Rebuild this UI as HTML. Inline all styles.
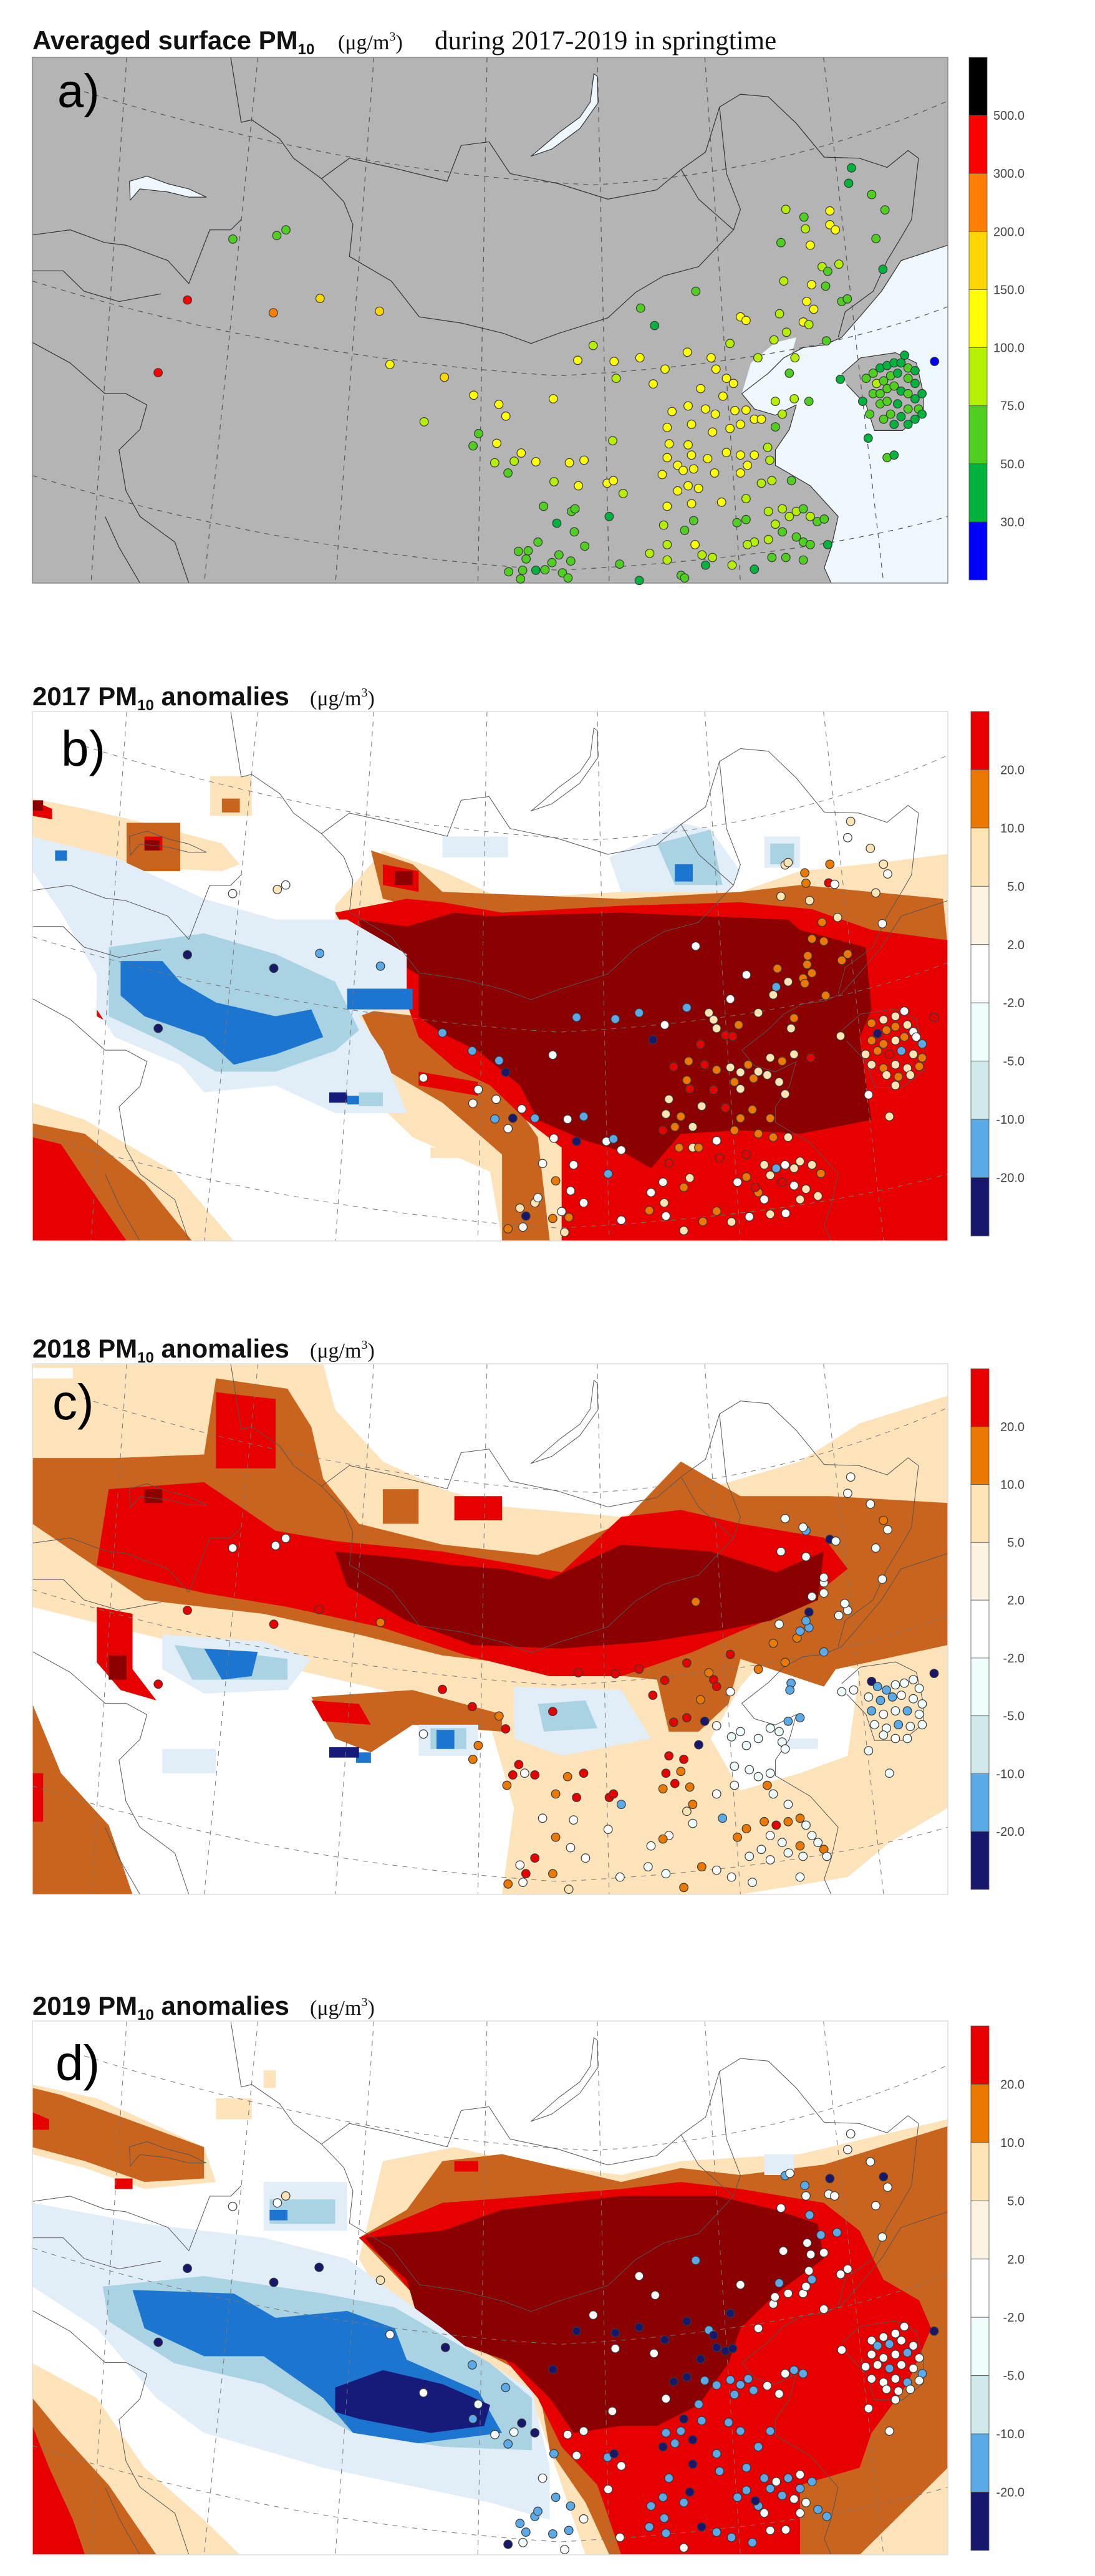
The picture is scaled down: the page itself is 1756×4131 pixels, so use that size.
<!DOCTYPE html>
<html><head><meta charset="utf-8">
<style>
html,body{margin:0;padding:0;background:#fff;}
svg{display:block;}
.bt{font-family:"Liberation Sans",sans-serif;font-weight:bold;fill:#111;}
.st{font-family:"Liberation Serif",serif;fill:#111;}
.pl{font-family:"Liberation Sans",sans-serif;fill:#000;}
.cb{font-family:"Liberation Sans",sans-serif;font-size:20px;fill:#444;}
</style></head>
<body>
<svg id="root" width="1756" height="4131" viewBox="0 0 1756 4131" xmlns="http://www.w3.org/2000/svg">
<defs>
<g id="baselines" fill="none" stroke-linejoin="round">
  <path vector-effect="non-scaling-stroke" d="M330,103 L345,230 L360,225 L400,262 L420,300 L460,340 L500,300 L560,318 L640,345 L660,275 L700,268 L730,330 L800,350 L870,380 L940,362 L975,322 L1010,288 L1030,200 L1060,175 L1100,180 L1140,232 L1180,298 L1230,300 L1270,318 L1300,285 L1315,300 L1305,420 L1290,455"/>
  <path vector-effect="non-scaling-stroke" d="M460,340 L492,385 L505,430 L500,492 L560,540 L600,610 L660,622 L720,642 L760,662 L800,642 L870,612 L910,562 L950,530 L1000,512 L1050,440 L1000,380 L975,322"/>
  <path vector-effect="non-scaling-stroke" d="M1050,440 L1060,400 L1040,330 L1030,200 M1290,455 L1270,500 L1250,560 L1210,600 L1200,650"/>
  <path vector-effect="non-scaling-stroke" d="M46,450 L100,440 L150,465 L180,470 L240,500 L270,545 L300,440 L330,440 L345,420 M46,660 L100,700 L150,760 L180,760 L210,782 L200,830 L170,870 L180,950 L200,1000 L250,1050 L270,1130 M46,520 L90,520 L120,560 L170,580 L230,565 M150,1000 L170,1060 L200,1130"/>
  <path vector-effect="non-scaling-stroke" d="M1357,470 L1290,500 L1262,560 L1232,608 L1205,650 L1180,665 L1150,670 L1122,690 L1100,720 L1062,760 L1080,790 L1110,802 L1140,782 L1130,830 L1110,870 L1110,900 L1160,940 L1200,1000 L1190,1060 L1180,1100 L1190,1130 M1205,722 L1232,690 L1282,680 L1312,700 L1322,760 L1322,800 L1292,832 L1252,832 L1240,782 L1212,742"/>
  <path vector-effect="non-scaling-stroke" d="M850,135 L845,190 L830,220 L800,250 L770,285 L760,296 L790,282 L830,242 L856,192 L855,140 Z"/>
  <path vector-effect="non-scaling-stroke" d="M185,345 L210,335 L240,350 L270,360 L295,376 L270,376 L240,366 L200,360 L186,382 Z"/>
</g>
<g id="graticule" fill="none" stroke-dasharray="8 8">
  <path vector-effect="non-scaling-stroke" d="M120,170 Q500,330 850,352 Q1120,330 1357,188"/>
  <path vector-effect="non-scaling-stroke" d="M46,540 Q400,690 800,725 Q1150,700 1357,590"/>
  <path vector-effect="non-scaling-stroke" d="M46,920 Q400,1070 800,1105 Q1150,1080 1357,1000"/>
  <path vector-effect="non-scaling-stroke" d="M181,103 L130,1130 M369,103 L292,1130 M535,103 L480,1130 M697,103 L684,1130 M855,103 L872,1130 M1009,103 L1060,1130 M1179,103 L1265,1130"/>
</g>
</defs>

<!-- titles -->
<text class="bt" x="52" y="79" font-size="42">Averaged surface PM<tspan font-size="24" dy="8">10</tspan></text>
<text class="st" x="542" y="79" font-size="34">(μg/m<tspan font-size="20" dy="-14">3</tspan><tspan dy="14">)</tspan></text>
<text class="st" x="697" y="79" font-size="43">during 2017-2019 in springtime</text>

<text class="bt" x="52" y="1131" font-size="42">2017 PM<tspan font-size="24" dy="8">10</tspan><tspan dy="-8"> anomalies</tspan></text>
<text class="st" x="497" y="1131" font-size="34">(μg/m<tspan font-size="20" dy="-14">3</tspan><tspan dy="14">)</tspan></text>

<text class="bt" x="52" y="2177" font-size="42">2018 PM<tspan font-size="24" dy="8">10</tspan><tspan dy="-8"> anomalies</tspan></text>
<text class="st" x="497" y="2177" font-size="34">(μg/m<tspan font-size="20" dy="-14">3</tspan><tspan dy="14">)</tspan></text>

<text class="bt" x="52" y="3231" font-size="42">2019 PM<tspan font-size="24" dy="8">10</tspan><tspan dy="-8"> anomalies</tspan></text>
<text class="st" x="497" y="3231" font-size="34">(μg/m<tspan font-size="20" dy="-14">3</tspan><tspan dy="14">)</tspan></text>

<!-- Panel a map -->
<svg x="52" y="92" width="1468" height="843" viewBox="46 103 1311 1027" preserveAspectRatio="none">
  <rect x="46" y="103" width="1311" height="1027" fill="#b4b4b4"/>
  <path fill="#eef6fe" d="M1357,470 L1290,500 L1262,560 L1232,608 L1205,650 L1180,665 L1150,670 L1122,690 L1100,720 L1062,760 L1080,790 L1110,802 L1140,782 L1130,830 L1110,870 L1110,900 L1160,940 L1200,1000 L1190,1060 L1180,1100 L1190,1130 L1357,1130 Z"/>
  <path fill="#eef6fe" d="M1062,760 L1075,700 L1110,660 L1140,650 L1130,700 L1110,730 Z"/>
  <path fill="#b4b4b4" d="M1205,722 L1232,690 L1282,680 L1312,700 L1322,760 L1322,800 L1292,832 L1252,832 L1240,782 L1212,742 Z"/>
  <path fill="#eef6fe" d="M850,135 L845,190 L830,220 L800,250 L770,285 L760,296 L790,282 L830,242 L856,192 L855,140 Z M185,345 L210,335 L240,350 L270,360 L295,376 L270,376 L240,366 L200,360 L186,382 Z"/>
  <use href="#graticule" stroke="#555" stroke-width="1.2"/>
  <use href="#baselines" stroke="#333" stroke-width="1.2"/>
</svg>
<rect x="52" y="92" width="1468" height="843" fill="none" stroke="#888" stroke-width="1.5"/>

<!-- Panels b-d map fields -->
<svg x="52" y="1141" width="1468" height="849" viewBox="12 18 1536 1532" preserveAspectRatio="none">
  <rect x="12" y="18" width="1536" height="1532" fill="#fff"/>
  <g>
  <path fill="#fde3ba" d="M12,270 L100,300 L200,340 L330,400 L360,460 L330,480 L200,470 L100,420 L12,400 Z M310,205 L380,205 L380,320 L310,320 Z M520,580 L600,420 L700,480 L800,560 L1000,540 L1200,540 L1300,480 L1460,450 L1548,430 L1548,1550 L800,1550 L780,1350 L650,1250 L560,1100 L520,900 L550,800 L600,760 L520,640 Z M12,1150 L100,1200 L250,1350 L350,1550 L12,1550 Z M680,1280 L740,1280 L740,1310 L680,1310 Z"/>
  <path fill="#c8641e" d="M12,1210 L100,1240 L200,1380 L280,1550 L12,1550 Z M560,880 L660,900 L720,1000 L800,1100 L860,1250 L880,1550 L800,1550 L800,1300 L700,1150 L600,1050 L580,950 Z M580,420 L650,460 L700,540 L1000,560 L1200,540 L1300,520 L1540,560 L1548,700 L1440,780 L1380,680 L1300,600 L700,600 L600,560 Z M170,340 L260,340 L260,480 L170,480 Z M330,270 L360,270 L360,310 L330,310 Z"/>
  <path fill="#e60000" d="M520,600 L640,560 L700,570 L800,600 L1000,580 L1200,570 L1320,590 L1420,650 L1548,680 L1548,1550 L900,1550 L900,1280 L840,1200 L780,1100 L720,1050 L660,960 L640,860 L600,720 L540,660 Z M12,1250 L60,1270 L110,1400 L170,1550 L12,1550 Z M660,1060 L760,1090 L760,1130 L660,1100 Z M600,460 L660,480 L660,540 L600,520 Z M120,850 L220,940 L220,990 L120,900 Z M12,275 L45,300 L45,330 L12,320 Z M200,380 L230,380 L230,420 L200,420 Z"/>
  <path fill="#8b0000" d="M560,620 L640,640 L720,600 L780,610 L1000,600 L1280,620 L1300,650 L1410,700 L1420,880 L1400,960 L1420,1200 L1300,1240 L1200,1230 L1100,1240 L1050,1340 L1000,1290 L940,1260 L860,1200 L830,1100 L760,1000 L700,950 L660,900 L660,780 L620,740 L570,680 Z M620,480 L650,480 L650,520 L620,520 Z M140,880 L170,880 L170,920 L140,920 Z M12,275 L30,275 L30,305 L12,305 Z M200,390 L225,390 L225,420 L200,420 Z"/>
  <path fill="#e1edf7" d="M12,380 L150,440 L300,560 L420,620 L540,620 L640,720 L640,850 L560,900 L600,1000 L640,1180 L520,1180 L420,1100 L300,1120 L260,1040 L150,960 L120,880 L120,780 L60,600 L12,480 Z M980,440 L1100,340 L1150,360 L1200,480 L1180,540 L1000,540 Z M1240,380 L1300,380 L1300,470 L1240,470 Z M700,380 L810,380 L810,440 L700,440 Z"/>
  <path fill="#a9d2e3" d="M140,700 L300,660 L420,720 L520,800 L560,940 L520,1000 L420,1060 L320,1060 L240,980 L140,900 Z M1060,400 L1150,360 L1170,520 L1090,520 Z M1250,400 L1290,400 L1290,460 L1250,460 Z M560,1120 L600,1120 L600,1160 L560,1160 Z"/>
  <path fill="#1c76cf" d="M160,740 L230,740 L260,800 L320,860 L420,900 L480,880 L500,960 L420,1010 L350,1040 L300,960 L200,900 L160,840 Z M540,820 L650,820 L650,880 L540,880 Z M1090,460 L1120,460 L1120,510 L1090,510 Z M50,420 L70,420 L70,450 L50,450 Z M540,1130 L560,1130 L560,1155 L540,1155 Z"/>
  <path fill="#161a78" d="M510,1120 L540,1120 L540,1150 L510,1150 Z"/>
  </g>
  <g transform="matrix(1.1716,0,0,1.4917,-41.9,-135.6)">
    <use href="#graticule" stroke="#777" stroke-width="1"/>
    <use href="#baselines" stroke="#555" stroke-width="1"/>
  </g>
</svg>
<rect x="52" y="1141" width="1468" height="849" fill="none" stroke="#ddd" stroke-width="1.5"/>

<svg x="52" y="2187" width="1468" height="851" viewBox="12 18 1536 1532" preserveAspectRatio="none">
  <rect x="12" y="18" width="1536" height="1532" fill="#fff"/>
  <g>
  <path fill="#fde3ba" d="M12,20 L1548,20 L1548,1300 L1450,1400 L1380,1500 L1200,1550 L12,1550 Z"/>
  <path fill="#ffffff" d="M500,20 L1548,20 L1548,110 L1400,190 L1300,300 L1100,400 L1000,460 L800,430 L700,380 L600,300 L520,150 Z M12,720 L200,800 L400,880 L600,960 L780,1060 L820,1300 L800,1550 L170,1550 L100,1400 L12,1300 Z M1250,850 L1400,900 L1380,1150 L1300,1200 L1200,1250 L1150,1100 L1200,950 Z M12,30 L80,30 L80,60 L12,60 Z"/>
  <path fill="#c8641e" d="M12,290 L150,290 L300,280 L320,60 L440,90 L480,200 L500,350 L560,480 L700,540 L860,570 L1000,480 L1100,300 L1200,400 L1350,400 L1548,420 L1548,830 L1360,900 L1340,950 L1200,870 L1180,1000 L1130,1080 L1080,1080 L1060,930 L900,900 L700,860 L560,800 L400,740 L200,700 L12,480 Z M480,980 L650,960 L800,1030 L800,1080 L650,1060 L580,1140 L520,1100 Z M12,1000 L60,1200 L140,1350 L180,1550 L12,1550 Z M600,380 L660,380 L660,480 L600,480 Z"/>
  <path fill="#e60000" d="M140,380 L300,360 L420,500 L520,530 L700,560 L900,620 L1000,460 L1100,440 L1200,480 L1340,520 L1380,610 L1300,720 L1200,790 L1120,850 L1000,920 L880,920 L740,860 L600,780 L440,720 L300,680 L200,640 L120,600 Z M320,100 L420,120 L420,320 L320,320 Z M120,720 L180,740 L180,900 L220,990 L160,960 L120,880 Z M480,990 L560,1000 L580,1060 L500,1050 Z M720,400 L800,400 L800,470 L720,470 Z M12,1200 L30,1200 L30,1340 L12,1340 Z"/>
  <path fill="#8b0000" d="M520,560 L640,580 L720,600 L800,610 L880,640 L1000,540 L1150,560 L1260,620 L1340,560 L1330,700 L1250,760 L1160,790 L1050,820 L900,840 L750,830 L640,760 L540,660 Z M140,860 L170,860 L170,930 L140,930 Z M200,380 L230,380 L230,420 L200,420 Z"/>
  <path fill="#e1edf7" d="M230,800 L400,820 L480,870 L440,960 L300,970 L230,900 Z M820,950 L1000,960 L1050,1100 L900,1150 L820,1100 Z M660,1060 L760,1060 L760,1150 L660,1150 Z M230,1130 L320,1130 L320,1200 L230,1200 Z M1280,1100 L1330,1100 L1330,1130 L1280,1130 Z"/>
  <path fill="#a9d2e3" d="M250,830 L440,870 L440,930 L280,930 Z M860,1000 L940,990 L960,1070 L870,1080 Z M680,1070 L740,1070 L740,1130 L680,1130 Z"/>
  <path fill="#1c76cf" d="M300,840 L390,850 L380,920 L330,930 Z M690,1075 L720,1075 L720,1130 L690,1130 Z M555,1140 L580,1140 L580,1170 L555,1170 Z"/>
  <path fill="#161a78" d="M510,1125 L560,1125 L560,1155 L510,1155 Z"/>
  </g>
  <g transform="matrix(1.1716,0,0,1.4917,-41.9,-135.6)">
    <use href="#graticule" stroke="#777" stroke-width="1"/>
    <use href="#baselines" stroke="#555" stroke-width="1"/>
  </g>
</svg>
<rect x="52" y="2187" width="1468" height="851" fill="none" stroke="#ddd" stroke-width="1.5"/>

<svg x="52" y="3241" width="1468" height="856" viewBox="12 18 1536 1532" preserveAspectRatio="none">
  <rect x="12" y="18" width="1536" height="1532" fill="#fff"/>
  <g>
  <path fill="#fde3ba" d="M12,200 L120,240 L300,380 L320,480 L200,500 L100,440 L12,400 Z M600,420 L720,380 L820,420 L1000,460 L1100,420 L1300,400 L1548,300 L1548,1550 L940,1550 L880,1250 L860,1150 L700,1000 L600,820 L560,700 Z M12,1000 L120,1100 L200,1300 L300,1450 L360,1550 L12,1550 Z M400,160 L420,160 L420,210 L400,210 Z M320,240 L380,240 L380,300 L320,300 Z"/>
  <path fill="#c8641e" d="M12,210 L60,230 L300,380 L300,470 L200,480 L100,420 L12,380 Z M560,640 L640,560 L700,420 L800,400 L1000,480 L1100,440 L1200,460 L1340,430 L1548,320 L1548,1300 L1400,1550 L980,1550 L940,1400 L880,1250 L860,1050 L760,960 L650,800 Z M12,1100 L60,1200 L140,1350 L220,1550 L12,1550 Z M130,840 L170,840 L170,880 L130,880 Z"/>
  <path fill="#e60000" d="M12,1180 L40,1300 L80,1450 L100,1550 L12,1550 Z M560,640 L700,540 L1000,500 L1100,480 L1200,500 L1340,540 L1400,620 L1440,760 L1500,820 L1520,900 L1480,1060 L1420,1200 L1400,1300 L1300,1350 L1300,1550 L1000,1550 L960,1350 L900,1240 L860,1100 L800,980 L700,900 L650,800 L600,700 Z M12,280 L40,300 L40,330 L12,330 Z M140,880 L180,880 L180,920 L140,920 Z M720,420 L760,420 L760,450 L720,450 Z M150,470 L180,470 L180,500 L150,500 Z"/>
  <path fill="#8b0000" d="M570,640 L700,620 L800,560 L1000,520 L1160,520 L1260,560 L1330,600 L1340,700 L1260,800 L1200,900 L1180,1000 L1130,1120 L1060,1180 L1000,1180 L920,1200 L880,1100 L820,1000 L720,940 L660,880 L640,760 L600,700 Z"/>
  <path fill="#e1edf7" d="M12,540 L200,600 L400,640 L540,700 L620,800 L700,900 L760,980 L850,1080 L880,1300 L880,1450 L780,1400 L500,1300 L300,1200 L220,1100 L120,900 L12,780 Z M400,480 L540,480 L540,620 L400,620 Z M1240,400 L1290,400 L1290,460 L1240,460 Z"/>
  <path fill="#a9d2e3" d="M130,780 L300,750 L500,800 L620,840 L700,920 L780,1000 L850,1100 L850,1250 L700,1240 L550,1200 L400,1060 L250,1000 L140,880 Z M410,530 L520,530 L520,600 L410,600 Z"/>
  <path fill="#1c76cf" d="M180,790 L350,800 L420,870 L540,850 L620,900 L640,990 L760,1080 L800,1200 L660,1230 L550,1200 L500,1100 L400,980 L300,980 L200,900 Z M410,560 L440,560 L440,590 L410,590 Z"/>
  <path fill="#161a78" d="M520,1070 L600,1020 L700,1060 L780,1120 L770,1180 L680,1200 L560,1160 L520,1140 Z"/>
  </g>
  <g transform="matrix(1.1716,0,0,1.4917,-41.9,-135.6)">
    <use href="#graticule" stroke="#777" stroke-width="1"/>
    <use href="#baselines" stroke="#555" stroke-width="1"/>
  </g>
</svg>
<rect x="52" y="3241" width="1468" height="856" fill="none" stroke="#ddd" stroke-width="1.5"/>

<g id="dots"></g>
<g id="cbars"></g>

<text class="pl" x="92" y="172" font-size="76">a)</text>
<text class="pl" x="98" y="1228" font-size="80">b)</text>
<text class="pl" x="84" y="2276" font-size="80">c)</text>
<text class="pl" x="89" y="3336" font-size="80">d)</text>
</svg>

<script>
// ---- colour scales ----
const pmBounds = [30, 50, 75, 100, 150, 200, 300, 500];
const pmColors = ["#0000ff", "#00b33c", "#4fcf1f", "#b5f000", "#ffff00", "#ffd700", "#ff8000", "#ff0000", "#000000"];
const pmTickLabels = ["500.0", "300.0", "200.0", "150.0", "100.0", "75.0", "50.0", "30.0"];
const anBounds = [-20, -10, -5, -2, 2, 5, 10, 20];
const anColors = ["#17186b", "#5aaae8", "#cfe8ea", "#effdfd", "#ffffff", "#fdf3e3", "#fde4b4", "#eb7800", "#e60000"];
const anTickLabels = ["20.0", "10.0", "5.0", "2.0", "-2.0", "-5.0", "-10.0", "-20.0"];

// ---- station data: [x, y, value] in map coordinates ----
const stationsA = [[268,577,350],[226,719,350],[391,602,250],[458,574,170],[543,599,160],[333,458,55],[396,451,60],[409,440,60],[558,703,130],[636,728,160],[678,763,130],[714,781,130],[724,804,130],[792,770,130],[607,815,90],[685,838,60],[677,862,55],[711,857,100],[746,876,110],[736,892,90],[767,893,120],[708,895,80],[727,915,55],[793,932,90],[815,895,120],[836,890,100],[828,940,130],[869,935,120],[878,930,130],[892,955,80],[877,852,85],[849,666,90],[827,695,120],[879,697,130],[916,690,140],[952,712,110],[984,679,120],[935,741,120],[882,730,80],[917,593,50],[937,627,40],[996,560,60],[1003,750,120],[1035,765,120],[1018,690,120],[1025,712,140],[1040,730,130],[1050,740,130],[1045,662,90],[1060,610,110],[1068,617,120],[1085,690,90],[1108,655,90],[1126,640,80],[1116,604,80],[1138,690,90],[1130,720,65],[1122,540,90],[1162,547,120],[1155,580,120],[1165,595,100],[1150,620,110],[1158,625,90],[1183,657,70],[1205,580,60],[1213,575,60],[1182,550,55],[1177,512,90],[1185,521,60],[1201,507,90],[1264,517,45],[1254,457,50],[1267,401,60],[1248,371,55],[1215,349,45],[1219,319,45],[1125,400,80],[1151,415,70],[1153,438,90],[1188,403,100],[1188,430,100],[1196,440,100],[1118,465,50],[1160,470,100],
[962,795,120],[985,784,140],[1010,790,120],[1024,800,130],[1052,793,130],[1068,792,130],[1080,810,130],[1090,810,120],[1060,820,140],[1045,828,140],[1020,835,130],[990,820,120],[955,826,120],[958,858,130],[985,860,140],[990,880,140],[1013,887,120],[970,900,130],[955,885,120],[978,910,130],[993,907,130],[948,918,120],[1023,915,130],[1040,875,130],[1060,880,120],[1080,880,120],[1070,900,120],[1060,915,120],[985,940,120],[1000,945,130],[970,950,120],[990,975,140],[955,980,120],[1033,972,130],[1068,965,90],[1090,935,90],[1105,930,80],[1133,930,70],[1110,775,90],[1120,800,80],[1110,825,70],[1137,770,80],[1158,775,60],[1102,890,90],[1099,865,75],
[1100,990,80],[1120,985,85],[1130,1000,90],[1140,990,80],[1150,985,70],[1160,1000,80],[1170,1010,60],[1180,1005,55],[1110,1015,90],[1120,1030,70],[1140,1040,60],[1150,1050,55],[1160,1055,60],[1100,1045,80],[1080,1050,80],[1070,1055,85],[1055,1012,55],[1068,1006,60],[1185,1055,40],[1125,1080,50],[1105,1080,55],[1150,1085,55],[1080,1103,45],[1048,1095,80],
[950,1017,80],[980,1027,70],[993,1008,60],[955,1055,90],[930,1072,80],[995,1055,100],[1005,1075,95],[1020,1080,90],[955,1085,75],[1010,1095,45],[975,1115,60],[980,1120,55],[915,1125,40],[887,1093,50],[872,1000,45],[837,1058,70],[822,1030,60],[818,990,55],[823,985,50],[797,1013,45],[778,980,50],[770,1050,55],[756,1067,55],[753,1083,70],[742,1068,65],[800,1075,60],[817,1087,50],[790,1090,60],[805,1110,50],[813,1120,50],[780,1104,55],[767,1105,45],[748,1105,70],[728,1108,50],[745,1122,55],
[1240,730,60],[1250,720,55],[1260,710,45],[1270,705,45],[1280,700,40],[1290,700,45],[1300,710,50],[1295,685,45],[1310,715,45],[1255,740,90],[1265,735,55],[1275,725,50],[1285,720,45],[1300,730,50],[1310,740,45],[1320,760,45],[1250,760,55],[1260,760,50],[1270,750,55],[1280,745,50],[1290,755,45],[1300,760,50],[1310,770,45],[1260,780,55],[1270,775,50],[1285,780,45],[1300,790,50],[1315,790,55],[1320,800,45],[1275,800,50],[1290,805,45],[1300,820,40],[1280,820,45],[1265,810,50],[1235,775,45],[1245,800,50],[1310,810,45],[1270,885,50],[1280,880,45],[1243,847,40],[1203,732,40],[1338,697,20]];

const stationsB = [[1385,336,5],[1380,383,1],[1418,414,5],[1440,460,5],[1447,488,1],[1427,543,5],[1438,632,1],[1350,460,15],[1308,485,15],[1310,515,15],[1348,514,25],[1358,518,1],[1275,462,5],[1280,455,5],[1268,553,5],[1316,565,5],[1337,628,15],[1363,614,5],[1320,676,15],[1340,683,15],[1380,720,15],[1370,738,15],[1313,725,15],[1312,750,15],[1320,775,15],[1305,790,15],[1308,805,15],[1280,800,5],[1260,815,-12],[1262,762,15],[1255,838,5],[1343,840,15],[1125,697,-3],[1210,780,1],[1183,850,1],[1110,875,-12],[1030,890,-12],[990,908,-12],[925,903,-12],[1073,925,1],[1053,968,-25],[1133,981,25],[1175,955,25],[1187,958,25],[1147,890,5],[1155,910,5],[1160,935,5],[1197,925,15],[1230,890,5],[1285,935,5],[1290,905,15],[1368,957,5],[885,1012,-3],[700,948,-12],[750,1000,-12],[795,1028,-12],[806,1062,-25],[668,1078,1],[760,1112,-3],[751,1152,1],[790,1140,1],[833,1168,-3],[818,1195,-25],[788,1197,-12],[855,1195,-12],[810,1225,1],[887,1253,1],[910,1198,1],[937,1190,-12],[925,1262,-25],[975,1262,-3],[987,1255,-12],[1000,1287,1],[868,1326,1],[920,1330,1],[978,1356,-12],[890,1376,15],[915,1405,1],[937,1440,1],[840,1478,-25],[830,1455,5],[855,1440,5],[860,1425,-3],[810,1515,15],[835,1510,1],[885,1485,15],[912,1482,15],[900,1465,1],[905,1525,5],[1000,1490,1],[1047,1462,15],[1075,1478,1],[1072,1440,5],[1105,1520,5],[1160,1464,15],[1137,1494,15],[1185,1495,5],[1215,1480,1],[1250,1473,5],[1276,1470,1],
[1088,1046,25],[1113,1030,15],[1140,1040,25],[1160,1055,15],[1183,1048,5],[1200,1062,5],[1213,1040,15],[1230,1060,5],[1250,1020,5],[1270,1030,15],[1290,1010,5],[1318,1020,25],[1080,1140,5],[1110,1085,15],[1115,1110,25],[1155,1113,25],[1190,1090,15],[1200,1110,5],[1222,1080,15],[1245,1070,5],[1265,1090,5],[1275,1125,5],[1220,1170,15],[1250,1195,15],[1175,1165,25],[1135,1160,5],[1100,1190,15],[1075,1183,5],[1090,1220,15],[1070,1230,25],[1120,1220,5],[1160,1260,1],[1200,1195,15],[1230,1240,15],[1190,1230,15],[1280,1250,5],[1255,1250,15],[1097,1280,15],[1120,1280,5],[1130,1280,15],[1165,1310,25],[1210,1300,25],[1240,1330,5],[1260,1340,-12],[1275,1330,1],[1290,1340,5],[1300,1320,5],[1320,1330,5],[1335,1355,15],[1250,1360,5],[1270,1380,25],[1290,1390,1],[1310,1400,5],[1230,1410,15],[1240,1430,1],[1300,1430,5],[1330,1420,5],[1080,1325,25],[1115,1368,5],[1070,1380,1],[1105,1395,15],[1050,1410,1],[1210,1365,15],[1195,1380,1],[1225,1395,25],
[1420,920,15],[1440,910,5],[1460,900,5],[1475,885,1],[1430,950,-25],[1445,940,15],[1460,930,15],[1480,925,5],[1490,945,1],[1420,970,15],[1440,980,15],[1460,970,5],[1475,960,15],[1495,960,1],[1505,980,-12],[1410,1010,5],[1430,1000,15],[1450,1010,25],[1470,1000,-12],[1490,1010,5],[1505,1020,15],[1420,1040,5],[1440,1050,15],[1460,1040,5],[1480,1050,5],[1500,1045,15],[1445,1070,5],[1465,1075,15],[1485,1070,5],[1460,1100,5],[1415,1127,1],[1450,1190,5],[1525,903,25],
[348,545,1],[423,533,5],[437,520,1],[272,722,-25],[417,761,-25],[494,718,-12],[596,755,-12],[223,935,-25]];

const stationsC = [[348,550,1],[420,543,-3],[437,522,-3],[272,730,25],[493,728,25],[417,770,25],[596,765,15],[223,943,25],[1125,705,15],[1183,857,25],[1110,882,25],[1030,900,25],[990,913,25],[928,910,25],[1073,932,25],[1053,975,25],[1133,988,15],[1147,910,15],[1155,930,25],[1160,950,25],[1183,965,1],[1230,900,15],[1285,940,-12],[1283,960,-12],[1275,880,15],[1255,825,15],[1295,810,15],[1340,850,-12],[1300,790,-12],[1315,780,-12],[1310,760,-12],[1315,735,-25],[1265,770,-3],[1320,690,-3],[1340,680,-3],[1365,745,-3],[1380,730,-3],[1375,710,-3],[1340,650,-3],[1340,635,-3],[1310,575,-3],[1268,560,-3],[1350,525,-25],[1360,530,-3],[1310,500,-12],[1305,490,-3],[1275,465,-3],[1385,345,1],[1380,392,1],[1418,423,-3],[1440,470,15],[1447,497,1],[1427,550,-3],[1438,640,-3],[1525,912,-25],
[885,1022,25],[700,958,25],[750,1008,25],[795,1035,15],[806,1072,25],[668,1087,1],[760,1120,15],[751,1160,15],[1088,1053,25],[1110,1040,25],[1140,1050,-25],[1160,1063,1],[1130,1118,-25],[1080,1150,25],[1105,1160,25],[1100,1195,15],[1075,1200,25],[1090,1230,25],[1115,1240,15],[1070,1245,15],[1120,1290,15],[1110,1310,5],[1170,1330,-12],[1160,1260,1],[1190,1235,1],[1190,1180,-3],[1210,1120,-3],[1230,1100,-3],[1250,1070,-3],[1280,1050,-12],[1300,1040,-12],[1265,1080,-3],[1270,1110,-3],[1275,1130,-3],[1200,1080,-3],[1185,1095,-3],[1215,1190,-3],[1230,1210,-3],[1250,1200,-3],[1255,1260,-3],[1245,1235,15],[1280,1290,-3],[1240,1340,15],[1260,1350,25],[1280,1340,15],[1300,1330,15],[1310,1350,-3],[1320,1380,-3],[1330,1400,-3],[1300,1410,15],[1270,1400,-3],[1250,1380,1],[1235,1420,-3],[1215,1440,-3],[1195,1385,15],[1210,1360,15],[1250,1450,1],[1280,1430,-3],[1305,1440,-3],[1340,1420,15],[1120,1345,-3],[1080,1380,1],[1070,1390,15],[1050,1410,1],[1045,1470,-3],[1075,1490,-3],[1105,1530,15],[1135,1470,15],[1160,1480,1],[1185,1500,1],[1220,1515,-3],[1300,1500,-3],[1345,1440,-3],
[828,1175,25],[818,1205,25],[838,1200,1],[855,1205,25],[808,1235,15],[890,1260,15],[910,1210,15],[937,1200,25],[925,1270,25],[980,1270,25],[987,1260,25],[1000,1290,-12],[868,1330,1],[920,1335,1],[978,1362,1],[890,1385,15],[915,1415,1],[940,1445,1],[840,1490,25],[830,1465,1],[855,1445,25],[810,1520,15],[835,1515,1],[885,1490,15],[912,1535,5],[998,1500,1],
[1420,935,-25],[1430,950,-12],[1445,960,-12],[1460,945,-3],[1475,940,-3],[1490,930,-3],[1500,955,-3],[1415,980,-3],[1435,990,-12],[1455,980,-12],[1470,975,1],[1490,985,-3],[1505,1000,-3],[1420,1020,-12],[1440,1030,1],[1460,1020,-3],[1480,1020,-12],[1500,1030,-3],[1425,1060,-3],[1445,1070,-3],[1465,1060,-12],[1485,1065,-3],[1505,1060,-3],[1440,1090,-3],[1460,1100,1],[1480,1100,-3],[1415,1135,-3],[1450,1200,-3],[1370,965,-3],[1390,960,1]];

const stationsD = [[348,550,1],[423,540,1],[437,520,5],[272,728,-25],[493,725,-25],[417,768,-25],[596,762,5],[223,940,-25],[612,918,1],[705,955,-25],[668,1085,1],[750,1005,-12],[806,1070,-12],[760,1118,-3],[751,1160,-12],[833,1172,-25],[855,1200,-25],[820,1198,-3],[788,1205,1],[810,1232,-12],[868,1330,1],[887,1260,-12],[910,1205,1],[937,1195,-3],[925,1265,-3],[977,1270,-12],[988,1260,-25],[1000,1295,1],[978,1362,1],[890,1385,-12],[915,1410,-12],[937,1447,1],[840,1485,-12],[830,1460,-12],[855,1440,-12],[860,1425,-12],[810,1520,-25],[835,1515,-3],[885,1490,-12],[912,1480,-12],[905,1535,1],[998,1500,1],[1047,1470,-12],[1075,1488,-12],[1072,1445,-12],[1105,1530,1],[1135,1470,-25],[1160,1485,-12],[1185,1500,-12],[1220,1515,-12],[1250,1480,-3],[1276,1478,1],
[1125,705,-12],[1030,750,1],[1057,805,1],[1200,775,1],[1272,678,1],[953,862,1],[990,958,1],[1055,972,1],[1075,1102,1],[985,1138,1],[885,1018,-25],[925,908,-25],[990,913,-25],[1030,897,-25],[1073,933,-25],[1110,880,-25],[1183,857,-25],[1147,905,-12],[1155,920,-25],[1160,955,-25],[1175,965,-25],[1187,958,-25],[1133,988,-25],[1110,1040,-25],[1088,1053,-25],[1140,1050,-12],[1160,1063,-12],[1183,1048,-12],[1200,1062,-12],[1213,1045,-12],[1190,1090,-12],[1222,1078,-12],[1245,1065,-3],[1265,1088,-3],[1275,1030,-3],[1290,1020,-12],[1305,1030,-12],[1130,1118,-12],[1105,1160,-25],[1100,1195,-12],[1075,1200,-12],[1090,1230,-12],[1120,1220,-25],[1070,1240,-25],[1160,1260,-12],[1200,1195,-12],[1230,1240,-12],[1250,1195,-12],[1180,1170,-12],[1135,1165,-12],[1120,1290,-25],[1165,1310,-12],[1210,1300,-12],[1240,1330,-12],[1260,1340,-3],[1280,1330,-12],[1300,1320,-3],[1320,1340,-12],[1300,1360,-12],[1290,1390,-3],[1310,1400,-3],[1250,1360,-12],[1270,1380,-12],[1230,1410,-12],[1240,1430,1],[1300,1430,-3],[1330,1420,-12],[1080,1330,-12],[1115,1370,-25],[1070,1385,-12],[1105,1400,-12],[1050,1410,-12],[1210,1365,-12],[1195,1385,-12],[1225,1395,-25],[1345,1440,-12],
[1230,900,-3],[1255,830,-3],[1258,810,1],[1280,800,-3],[1305,800,1],[1310,780,-3],[1320,760,-12],[1315,735,-3],[1340,845,-3],[1265,770,-12],[1340,683,-3],[1318,688,1],[1312,655,-3],[1335,632,-12],[1362,625,-12],[1368,745,-3],[1380,730,1],[1350,470,-25],[1440,465,-25],[1447,495,1],[1385,342,1],[1380,387,1],[1418,422,-3],[1427,548,1],[1438,638,-3],[1275,462,-12],[1283,455,-3],[1308,490,-12],[1310,520,-3],[1348,515,-3],[1358,520,1],[1268,555,1],[1316,575,-12],[1525,908,-25],[1370,962,1],
[1420,935,-3],[1440,925,-3],[1460,915,1],[1475,895,1],[1430,950,-12],[1450,945,-12],[1470,935,1],[1490,950,-3],[1420,975,1],[1440,985,-3],[1460,975,1],[1480,970,-12],[1500,985,-3],[1410,1010,-3],[1430,1005,1],[1450,1015,-12],[1470,1005,-3],[1490,1015,1],[1505,1030,-12],[1420,1045,-3],[1440,1055,1],[1460,1045,-3],[1480,1055,-12],[1500,1050,-3],[1445,1075,-3],[1465,1080,1],[1485,1075,-3],[1460,1105,-3],[1415,1130,1],[1450,1195,1]];

const NS = "http://www.w3.org/2000/svg";
function colorFor(v, bounds, colors) {
  let i = 0;
  while (i < bounds.length && v >= bounds[i]) i++;
  return colors[i];
}
// axis functions mapping map coordinates -> page pixels
function makeAxis(vx, vy, vw, vh, px, py, pw, ph) {
  return {
    x: function (d) { return px + (d - vx) / vw * pw; },
    y: function (d) { return py + (d - vy) / vh * ph; }
  };
}
const axA = makeAxis(46, 103, 1311, 1027, 52, 92, 1468, 843);
const axB = makeAxis(12, 18, 1536, 1532, 52, 1141, 1468, 849);
const axC = makeAxis(12, 18, 1536, 1532, 52, 2187, 1468, 851);
const axD = makeAxis(12, 18, 1536, 1532, 52, 3241, 1468, 856);

const dotsG = document.getElementById('dots');
function drawStations(list, ax, bounds, colors, panel) {
  const g = document.createElementNS(NS, 'g');
  
  
  list.forEach(function (s) {
    const c = document.createElementNS(NS, 'circle');
    c.setAttribute('cx', ax.x(s[0]).toFixed(1));
    c.setAttribute('cy', ax.y(s[1]).toFixed(1));
    c.setAttribute('r', 6.8);
    c.setAttribute('fill', colorFor(s[2], bounds, colors));
    c.setAttribute('stroke', '#3a3a3a');
    c.setAttribute('stroke-width', '1.2');
    
    
    g.appendChild(c);
  });
  dotsG.appendChild(g);
}
drawStations(stationsA, axA, pmBounds, pmColors, 'a');
drawStations(stationsB, axB, anBounds, anColors, 'b');
drawStations(stationsC, axC, anBounds, anColors, 'c');
drawStations(stationsD, axD, anBounds, anColors, 'd');

// ---- colorbars ----
const cbG = document.getElementById('cbars');
function drawColorbar(x, top, bottom, colors, labels, panel) {
  const g = document.createElementNS(NS, 'g');
  
  
  const n = colors.length;
  const h = (bottom - top) / n;
  for (let i = 0; i < n; i++) {
    const r = document.createElementNS(NS, 'rect');
    r.setAttribute('x', x);
    r.setAttribute('y', (top + i * h).toFixed(1));
    r.setAttribute('width', 29);
    r.setAttribute('height', h.toFixed(1));
    r.setAttribute('fill', colors[n - 1 - i]);
    r.setAttribute('stroke', '#555');
    r.setAttribute('stroke-width', '0.8');
    
    
    g.appendChild(r);
  }
  labels.forEach(function (lab, i) {
    const t = document.createElementNS(NS, 'text');
    t.setAttribute('x', 1643);
    t.setAttribute('y', (top + (i + 1) * h + 7).toFixed(1));
    t.setAttribute('text-anchor', 'end');
    t.setAttribute('class', 'cb');
    
    
    t.textContent = lab;
    g.appendChild(t);
  });
  cbG.appendChild(g);
}
drawColorbar(1554, 92, 930, pmColors, pmTickLabels, 'a');
drawColorbar(1557, 1141, 1982, anColors, anTickLabels, 'b');
drawColorbar(1557, 2195, 3030, anColors, anTickLabels, 'c');
drawColorbar(1557, 3249, 4090, anColors, anTickLabels, 'd');
</script>
</body></html>
